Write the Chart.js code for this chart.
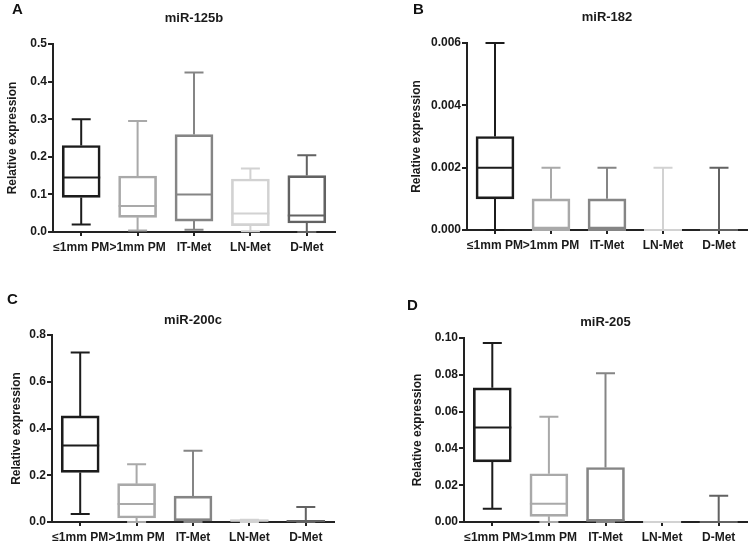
<!DOCTYPE html>
<html>
<head>
<meta charset="utf-8">
<script src="https://cdn.jsdelivr.net/npm/chart.js@4.4.1/dist/chart.umd.min.js"></script>
<style>
  body { margin: 0; background: #fff; }
  #wrap { position: relative; width: 750px; height: 545px; background: #fff; font-family: 'Liberation Sans', Arial, sans-serif; }
  #wrap canvas { position: absolute; }
  .letter { position: absolute; font-weight: bold; font-size: 15px; color: #111; line-height: 1; }
</style>
</head>
<body>
<div id="wrap">
  <canvas id="chartA" width="375" height="270" style="left:0;top:0"></canvas>
  <canvas id="chartB" width="375" height="270" style="left:375px;top:0"></canvas>
  <canvas id="chartC" width="375" height="275" style="left:0;top:270px"></canvas>
  <canvas id="chartD" width="375" height="275" style="left:375px;top:270px"></canvas>
  <div class="letter" style="left:12px;top:1px">A</div>
  <div class="letter" style="left:413px;top:1px">B</div>
  <div class="letter" style="left:7px;top:291px">C</div>
  <div class="letter" style="left:407px;top:297px">D</div>
</div>
<script>
// categories shared by all four panels
const categories = ['≤1mm PM', '>1mm PM', 'IT-Met', 'LN-Met', 'D-Met'];
const boxColors = ['#1c1c1c', '#a9a9a9', '#858585', '#d2d2d2', '#626262'];

// miR-125b
const a_min = [0.020, 0.004, 0.006, 0.002, 0.000];
const a_q1 = [0.092, 0.039, 0.029, 0.017, 0.024];
const a_med = [0.145, 0.069, 0.100, 0.049, 0.044];
const a_q3 = [0.230, 0.149, 0.259, 0.141, 0.150];
const a_max = [0.300, 0.295, 0.424, 0.169, 0.204];
const a_ticks = [0, 0.1, 0.2, 0.3, 0.4, 0.5];

// miR-182
const b_min = [0, 0, 0, 0, 0];
const b_q1 = [0.001, 0, 0, 0, 0];
const b_med = [0.002, 0, 0, 0, 0];
const b_q3 = [0.003, 0.001, 0.001, 0, 0];
const b_max = [0.006, 0.002, 0.002, 0.002, 0.002];
const b_ticks = [0, 0.002, 0.004, 0.006];

// miR-200c
const c_min = [0.034, 0, 0, 0, 0];
const c_q1 = [0.212, 0.017, 0.005, 0, 0.001];
const c_med = [0.327, 0.077, 0.010, 0.005, 0.004];
const c_q3 = [0.454, 0.164, 0.111, 0.010, 0.007];
const c_max = [0.725, 0.247, 0.305, 0.010, 0.064];
const c_ticks = [0, 0.2, 0.4, 0.6, 0.8];

// miR-205
const d_min = [0.0072, 0, 0, 0, 0];
const d_q1 = [0.0327, 0.0031, 0.0003, 0, 0];
const d_med = [0.0514, 0.0099, 0.0009, 0, 0];
const d_q3 = [0.0729, 0.0262, 0.0296, 0, 0];
const d_max = [0.0973, 0.0572, 0.0809, 0, 0.0143];
const d_ticks = [0, 0.02, 0.04, 0.06, 0.08, 0.10];

const FONT = "'Liberation Sans', Arial, sans-serif";

// draws whiskers, caps and median on top of the floating bars (the boxes)
const whiskerPlugin = {
    id: 'whiskers',
    afterDatasetsDraw(chart) {
        const s = chart.options.plugins.whiskers;
        const y = chart.scales.y;
        const ctx = chart.ctx;
        chart.getDatasetMeta(0).data.forEach((bar, i) => {
            const cx = bar.x;
            const half = bar.width / 2;
            const cap = half / 2;
            const yMax = y.getPixelForValue(s.max[i]);
            const yMin = y.getPixelForValue(s.min[i]);
            const yQ3 = y.getPixelForValue(s.q3[i]);
            const yQ1 = y.getPixelForValue(s.q1[i]);
            const yMed = y.getPixelForValue(s.med[i]);
            ctx.save();
            ctx.strokeStyle = boxColors[i];
            ctx.lineWidth = 2;
            ctx.beginPath();
            ctx.moveTo(cx, yQ3); ctx.lineTo(cx, yMax);
            ctx.moveTo(cx - cap, yMax); ctx.lineTo(cx + cap, yMax);
            ctx.moveTo(cx, yQ1); ctx.lineTo(cx, yMin);
            ctx.moveTo(cx - cap, yMin); ctx.lineTo(cx + cap, yMin);
            ctx.moveTo(cx - half, yMed); ctx.lineTo(cx + half, yMed);
            ctx.stroke();
            ctx.restore();
        });
    }
};

function makeChart(id, title, s, ticks, decimals, box) {
    const ctx = document.getElementById(id).getContext('2d');
    const canvasW = ctx.canvas.width, canvasH = ctx.canvas.height;
    return new Chart(ctx, {
        type: 'bar',
        data: {
            labels: categories,
            datasets: [{
                data: s.q1.map((q, i) => [q, s.q3[i]]),
                backgroundColor: 'rgba(255,255,255,0)',
                borderColor: boxColors,
                borderWidth: 2,
                borderSkipped: false,
                barThickness: 38
            }]
        },
        plugins: [whiskerPlugin],
        options: {
            responsive: false,
            animation: false,
            events: [],
            layout: { padding: { left: 0, top: 0, bottom: 0, right: canvasW - box.right } },
            plugins: {
                legend: { display: false },
                tooltip: { enabled: false },
                title: {
                    display: true,
                    text: title,
                    fullSize: false,
                    color: '#1a1a1a',
                    font: { family: FONT, size: 13, weight: 'bold' },
                    padding: { top: box.titleTop, bottom: box.top - box.titleTop - 15.6 }
                },
                whiskers: s
            },
            scales: {
                x: {
                    grid: { display: true, drawOnChartArea: false, offset: false, tickLength: 4, tickColor: '#222', lineWidth: 2 },
                    border: { display: true, color: '#222', width: 2 },
                    ticks: { color: '#1a1a1a', padding: 4, maxRotation: 0, autoSkip: false, font: { family: FONT, size: 12, weight: 'bold' } },
                    afterFit: (scale) => { scale.height = canvasH - box.bottom; }
                },
                y: {
                    min: ticks[0],
                    max: ticks[ticks.length - 1],
                    afterBuildTicks: (scale) => { scale.ticks = ticks.map(v => ({ value: v })); },
                    grid: { display: true, drawOnChartArea: false, tickLength: 5, tickColor: '#222', lineWidth: 2 },
                    border: { display: true, color: '#222', width: 2 },
                    ticks: {
                        color: '#1a1a1a', padding: 1,
                        font: { family: FONT, size: 12, weight: 'bold' },
                        callback: (v) => Number(v).toFixed(decimals)
                    },
                    title: {
                        display: true,
                        text: 'Relative expression',
                        color: '#1a1a1a',
                        padding: { top: box.titleX - 7.2, bottom: 0 },
                        font: { family: FONT, size: 12, weight: 'bold' }
                    },
                    afterFit: (scale) => { scale.width = box.left; }
                }
            }
        }
    });
}

document.addEventListener('DOMContentLoaded', () => {
    makeChart('chartA', 'miR-125b', { min: a_min, q1: a_q1, med: a_med, q3: a_q3, max: a_max }, a_ticks, 1,
        { left: 53, right: 335, top: 44, bottom: 232, titleTop: 10.2, titleX: 13 });
    makeChart('chartB', 'miR-182', { min: b_min, q1: b_q1, med: b_med, q3: b_q3, max: b_max }, b_ticks, 3,
        { left: 92, right: 372, top: 43, bottom: 230, titleTop: 9.2, titleX: 42 });
    makeChart('chartC', 'miR-200c', { min: c_min, q1: c_q1, med: c_med, q3: c_q3, max: c_max }, c_ticks, 1,
        { left: 52, right: 334, top: 65, bottom: 252, titleTop: 42.2, titleX: 17 });
    makeChart('chartD', 'miR-205', { min: d_min, q1: d_q1, med: d_med, q3: d_q3, max: d_max }, d_ticks, 2,
        { left: 89, right: 372, top: 68, bottom: 252, titleTop: 44.2, titleX: 43 });
});
</script>
</body>
</html>
